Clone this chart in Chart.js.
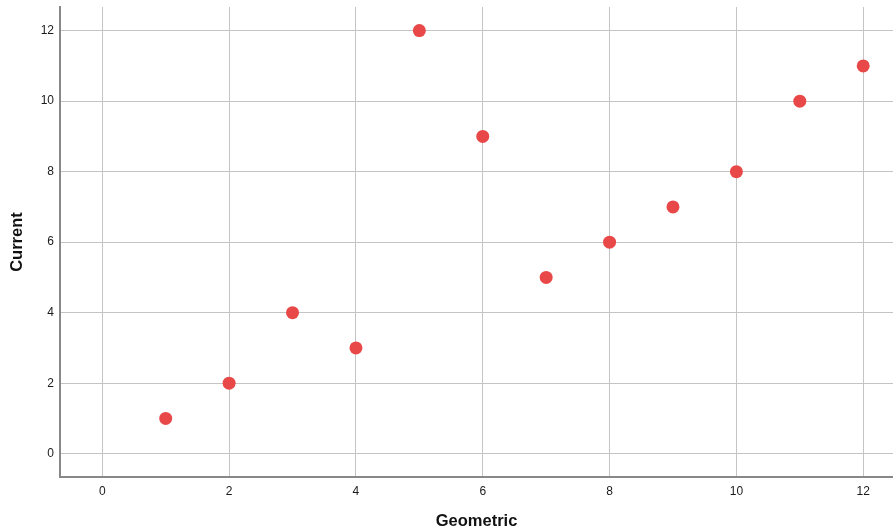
<!DOCTYPE html>
<html>
<head>
<meta charset="utf-8">
<script src="https://cdn.jsdelivr.net/npm/chart.js@4.4.0/dist/chart.umd.min.js"></script>
<style>
  html, body { margin: 0; padding: 0; background: #fff; overflow: hidden; }
</style>
</head>
<body>
<canvas id="chart" width="893" height="532"></canvas>
<script>
const geometric = [1, 2, 3, 4, 5, 6, 7, 8, 9, 10, 11, 12];
const current = [1, 2, 4, 3, 12, 9, 5, 6, 7, 8, 10, 11];

const points = geometric.map((g, i) => ({ x: g, y: current[i] }));

const ctx = document.getElementById('chart').getContext('2d');
new Chart(ctx, {
  type: 'scatter',
  data: {
    datasets: [{
      data: points,
      backgroundColor: '#e84848',
      borderColor: '#e84848',
      pointRadius: 6.5,
      pointHoverRadius: 6.5,
      borderWidth: 0
    }]
  },
  options: {
    responsive: false,
    animation: false,
    layout: { autoPadding: false, padding: { top: 7, right: 0, left: 0, bottom: 0 } },
    plugins: {
      legend: { display: false },
      tooltip: { enabled: false }
    },
    scales: {
      x: {
        type: 'linear',
        min: -0.667,
        max: 12.47,
        afterFit: (scale) => {
          scale.height = 55;
          scale.paddingLeft = 0;
          scale.paddingRight = 0;
        },
        grid: { color: '#c4c4c4', drawTicks: false, lineWidth: 1 },
        border: { color: '#888', width: 2 },
        ticks: {
          stepSize: 2,
          includeBounds: false,
          padding: 7,
          color: '#1a1a1a',
          font: { family: 'Liberation Sans', size: 12 }
        },
        title: {
          display: true,
          text: 'Geometric',
          color: '#111',
          font: { family: 'Liberation Sans', size: 16.5, weight: 'bold' },
          padding: { top: 0, bottom: 1 }
        }
      },
      y: {
        type: 'linear',
        min: -0.66,
        max: 12.67,
        afterFit: (scale) => {
          scale.width = 60;
          scale.paddingTop = 0;
          scale.paddingBottom = 0;
        },
        grid: { color: '#c4c4c4', drawTicks: false, lineWidth: 1 },
        border: { color: '#888', width: 2 },
        ticks: {
          stepSize: 2,
          includeBounds: false,
          padding: 6,
          color: '#1a1a1a',
          font: { family: 'Liberation Sans', size: 12 }
        },
        title: {
          display: true,
          text: 'Current',
          color: '#111',
          font: { family: 'Liberation Sans', size: 16.5, weight: 'bold' },
          padding: { top: 8, bottom: 0 }
        }
      }
    }
  }
});
</script>
</body>
</html>
